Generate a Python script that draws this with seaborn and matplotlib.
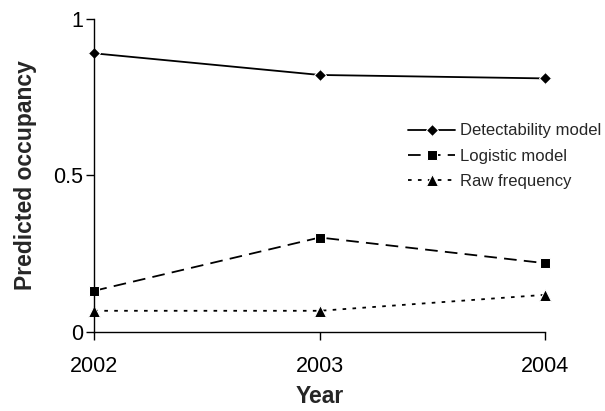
import pandas as pd
import matplotlib
matplotlib.use("Agg")
import matplotlib.pyplot as plt
import seaborn as sns

years = [2002, 2003, 2004]
detectability = [0.89, 0.821, 0.81]
logistic = [0.132, 0.302, 0.22]
raw_freq = [0.068, 0.068, 0.119]

sns.set_style("ticks")
plt.rcParams['font.family'] = ['Liberation Sans', 'DejaVu Sans']

df = pd.DataFrame({'year': years, 'Detectability model': detectability,
                   'Logistic model': logistic, 'Raw frequency': raw_freq})

fig = plt.figure(figsize=(6.05, 4.11), dpi=100)
ax = fig.add_axes([0.156, 0.192, 0.745, 0.762])

sns.lineplot(data=df, x='year', y='Detectability model', ax=ax, color='black',
             marker='D', markersize=6.5, linewidth=1.3, label='Detectability model')
sns.lineplot(data=df, x='year', y='Logistic model', ax=ax, color='black',
             marker='s', markersize=7.5, linewidth=1.3, linestyle=(0, (7, 4)),
             label='Logistic model')
sns.lineplot(data=df, x='year', y='Raw frequency', ax=ax, color='black',
             marker='^', markersize=8.5, linewidth=1.3, linestyle=(0, (2, 3.5)),
             label='Raw frequency')

ax.set_xlim(2002, 2004)
ax.set_ylim(0, 1)
ax.set_xticks(years)
ax.set_xticklabels([str(y) for y in years])
ax.set_yticks([0, 0.5, 1])
ax.set_yticklabels(['0', '0.5', '1'])
ax.tick_params(axis='both', labelsize=15.5, length=6, width=1, colors='black')
ax.tick_params(axis='x', pad=11)
ax.tick_params(axis='y', pad=2)
for side in ['top', 'right']:
    ax.spines[side].set_visible(False)
for side in ['left', 'bottom']:
    ax.spines[side].set_linewidth(1)
    ax.spines[side].set_color('black')
for m in ax.lines:
    m.set_clip_on(False)

ax.set_xlabel('Year', fontsize=16.5, fontweight='bold', labelpad=6)
ax.set_ylabel('Predicted occupancy', fontsize=16.5, fontweight='bold', labelpad=12)

ax.legend(loc='upper left', bbox_to_anchor=(0.664, 0.716), bbox_transform=fig.transFigure,
          frameon=False, fontsize=12, handlelength=2.8, handletextpad=0.3,
          labelspacing=0.62, borderaxespad=0)

fig.savefig('out.png', dpi=100)
